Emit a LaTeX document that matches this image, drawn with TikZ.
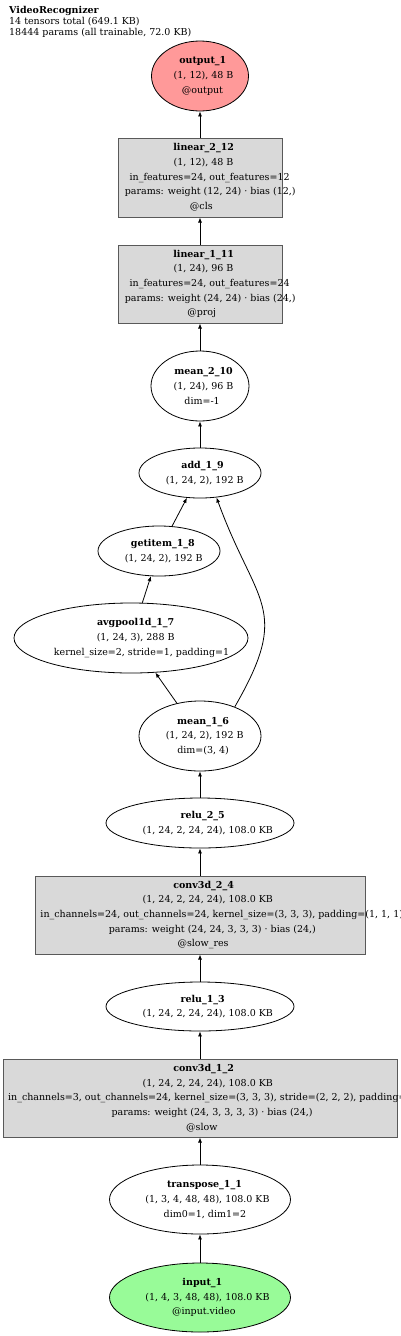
\documentclass[tikz,border=0pt]{standalone}
\usepackage{fontspec}
\setmainfont{DejaVu Serif}
\usetikzlibrary{positioning}
\usetikzlibrary{shapes,arrows.meta}
\definecolor{outfill}{RGB}{255,153,153}
\definecolor{infill}{RGB}{152,251,152}
\newcommand{\gvl}[1]{\sbox0{#1}\makebox[1.12\wd0][r]{\usebox0}}
\tikzset{
  op/.style={draw,ellipse,line width=0.8pt,inner sep=0pt},
  layer/.style={draw=black!65,line width=1pt,rectangle,fill=gray!30,inner sep=0pt},
  lbl/.style={align=center,inner sep=0pt,font={\fontsize{9.5}{14.7}\selectfont}},
  edge/.style={-{Latex[length=5pt,width=4pt]},line width=0.8pt},
}
\begin{document}
\begin{tikzpicture}[x=1pt,y=1pt]
\useasboundingbox (0,0) rectangle (400,-1336);
%title
\node (title) at (9,-6.5) [anchor=north west,align=left,inner sep=0pt,font={\fontsize{9.5}{11}\selectfont}] {\textbf{VideoRecognizer}\\14 tensors total (649.1 KB)\\18444 params (all trainable, 72.0 KB)};

%head
\node (out) at (200,-76) [op,fill=outfill,minimum width=97pt,minimum height=70pt,
  label={[lbl]center:{\gvl{\textbf{output\_1}}\\\gvl{(1, 12), 48 B}\\\gvl{@output}}}] {};
\node (lin2) at (200,-177.5) [layer,minimum width=164pt,minimum height=79pt,
  label={[lbl]center:{\gvl{\textbf{linear\_2\_12}}\\\gvl{(1, 12), 48 B}\\\gvl{in\_features=24, out\_features=12}\\\gvl{params: weight (12, 24) · bias (12,)}\\\gvl{@cls}}}] {};
\node (lin1) at (200,-284) [layer,minimum width=164pt,minimum height=78pt,
  label={[lbl]center:{\gvl{\textbf{linear\_1\_11}}\\\gvl{(1, 24), 96 B}\\\gvl{in\_features=24, out\_features=24}\\\gvl{params: weight (24, 24) · bias (24,)}\\\gvl{@proj}}}] {};
\node (mean2) at (200,-386) [op,minimum width=98pt,minimum height=70pt,
  label={[lbl]center:{\gvl{\textbf{mean\_2\_10}}\\\gvl{(1, 24), 96 B}\\\gvl{dim=-1}}}] {};

%pooling and skip
\node (add) at (200,-473) [op,minimum width=122pt,minimum height=50pt,
  label={[lbl]center:{\gvl{\textbf{add\_1\_9}}\\\gvl{(1, 24, 2), 192 B}}}] {};
\node (getitem) at (159,-551) [op,minimum width=122pt,minimum height=50pt,
  label={[lbl]center:{\gvl{\textbf{getitem\_1\_8}}\\\gvl{(1, 24, 2), 192 B}}}] {};
\node (avg) at (131,-638) [op,minimum width=234pt,minimum height=70pt,
  label={[lbl]center:{\gvl{\textbf{avgpool1d\_1\_7}}\\\gvl{(1, 24, 3), 288 B}\\\gvl{kernel\_size=2, stride=1, padding=1}}}] {};
\node (mean1) at (200,-736) [op,minimum width=122pt,minimum height=70pt,
  label={[lbl]center:{\gvl{\textbf{mean\_1\_6}}\\\gvl{(1, 24, 2), 192 B}\\\gvl{dim=(3, 4)}}}] {};

%slow pathway
\node (relu2) at (200,-823) [op,minimum width=188pt,minimum height=50pt,
  label={[lbl]center:{\gvl{\textbf{relu\_2\_5}}\\\gvl{(1, 24, 2, 24, 24), 108.0 KB}}}] {};
\node (conv2) at (200,-915) [layer,minimum width=330pt,minimum height=78pt,
  label={[lbl]center:{\gvl{\textbf{conv3d\_2\_4}}\\\gvl{(1, 24, 2, 24, 24), 108.0 KB}\\\gvl{in\_channels=24, out\_channels=24, kernel\_size=(3, 3, 3), padding=(1, 1, 1)}\\\gvl{params: weight (24, 24, 3, 3, 3) · bias (24,)}\\\gvl{@slow\_res}}}] {};
\node (relu1) at (200,-1006.5) [op,minimum width=188pt,minimum height=49pt,
  label={[lbl]center:{\gvl{\textbf{relu\_1\_3}}\\\gvl{(1, 24, 2, 24, 24), 108.0 KB}}}] {};
\node (conv1) at (200,-1098) [layer,minimum width=394pt,minimum height=78pt,
  label={[lbl]center:{\gvl{\textbf{conv3d\_1\_2}}\\\gvl{(1, 24, 2, 24, 24), 108.0 KB}\\\gvl{in\_channels=3, out\_channels=24, kernel\_size=(3, 3, 3), stride=(2, 2, 2), padding=(1, 1, 1)}\\\gvl{params: weight (24, 3, 3, 3, 3) · bias (24,)}\\\gvl{@slow}}}] {};
\node (trans) at (200,-1199.5) [op,minimum width=181pt,minimum height=69pt,
  label={[lbl]center:{\gvl{\textbf{transpose\_1\_1}}\\\gvl{(1, 3, 4, 48, 48), 108.0 KB}\\\gvl{dim0=1, dim1=2}}}] {};
\node (in) at (200,-1297.5) [op,fill=infill,minimum width=181pt,minimum height=69pt,
  label={[lbl]center:{\gvl{\textbf{input\_1}}\\\gvl{(1, 4, 3, 48, 48), 108.0 KB}\\\gvl{@input.video}}}] {};

%edges
\foreach \a/\b in {in/trans,trans/conv1,conv1/relu1,relu1/conv2,conv2/relu2,relu2/mean1,mean1/avg,avg/getitem,getitem/add,add/mean2,mean2/lin1,lin1/lin2,lin2/out}{
  \draw [edge] (\a) -- (\b);
}
\draw [edge] (mean1.40) .. controls +(60:115) and +(-70:115) .. (add.-56);
\end{tikzpicture}
\end{document}
